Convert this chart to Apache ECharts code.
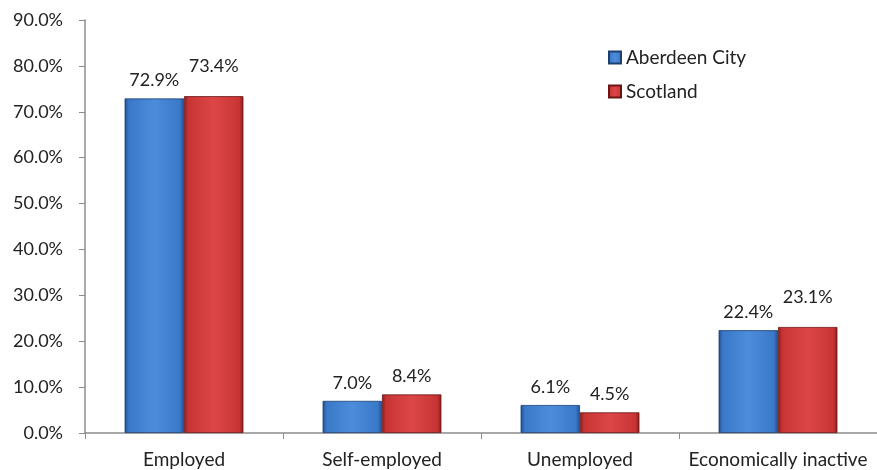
<!DOCTYPE html>
<html><head><meta charset="utf-8">
<script src="https://cdn.jsdelivr.net/npm/echarts@6/dist/echarts.min.js"></script>
<style>html,body{margin:0;padding:0;background:#fff}#c{width:877px;height:470px}</style>
</head><body><div id="c"></div>
<script>
var categories = ["Employed", "Self-employed", "Unemployed", "Economically inactive"];
var aberdeen = [72.9, 7.0, 6.1, 22.4];
var scotland = [73.4, 8.4, 4.5, 23.1];
var seriesNames = ["Aberdeen City", "Scotland"];

function grad(dark, mid, light) {
  return new echarts.graphic.LinearGradient(0, 0, 1, 0, [
    {offset: 0, color: dark}, {offset: 0.07, color: mid}, {offset: 0.5, color: light},
    {offset: 0.93, color: mid}, {offset: 1, color: dark}
  ]);
}
function pct(p) { return p.value.toFixed(1) + '%'; }
var font = "Lato, 'Open Sans', sans-serif";
var lbl = {show: true, position: 'top', distance: 9, fontSize: 18, color: '#222', fontFamily: font, formatter: pct};
// Scotland labels on Employed / Economically inactive sit higher in the original
var scotData = scotland.map(function (v, i) {
  return (i === 0 || i === 3) ? {value: v, label: {distance: 21}} : v;
});
var chart = echarts.init(document.getElementById('c'));
chart.setOption({
  animation: false,
  textStyle: {fontFamily: font},
  grid: {left: 85, top: 20, bottom: 37, width: 800},
  legend: {
    orient: 'vertical', left: 603, top: 43, itemGap: 15,
    itemWidth: 12, itemHeight: 12, icon: 'rect',
    textStyle: {fontSize: 19, color: '#222', fontFamily: font},
    data: seriesNames
  },
  xAxis: {
    type: 'category', data: categories,
    axisLine: {lineStyle: {color: '#8c8c8c', width: 1.5}},
    axisTick: {show: true, length: 6, lineStyle: {color: '#8c8c8c'}},
    axisLabel: {interval: 0, hideOverlap: false, fontSize: 19, color: '#222', margin: 17, fontFamily: font}
  },
  yAxis: {
    type: 'value', min: 0, max: 90, interval: 10,
    splitLine: {show: false},
    axisLine: {show: true, lineStyle: {color: '#8c8c8c', width: 1.5}},
    axisTick: {show: true, length: 6, lineStyle: {color: '#8c8c8c'}},
    axisLabel: {fontSize: 18, color: '#222', margin: 22, fontFamily: font,
      formatter: function (v) { return v.toFixed(1) + '%'; }}
  },
  series: [
    {
      name: seriesNames[0], type: 'bar', data: aberdeen, barGap: '0%', barCategoryGap: '40%',
      itemStyle: {color: grad('#1f4f91', '#3a78c8', '#4c8ddb'), borderColor: '#1d3f70', borderWidth: 0.8},
      label: lbl
    },
    {
      name: seriesNames[1], type: 'bar', data: scotData,
      itemStyle: {color: grad('#8a1c1c', '#c83434', '#dd4646'), borderColor: '#6a1515', borderWidth: 0.8},
      label: lbl
    }
  ]
});
</script></body></html>
